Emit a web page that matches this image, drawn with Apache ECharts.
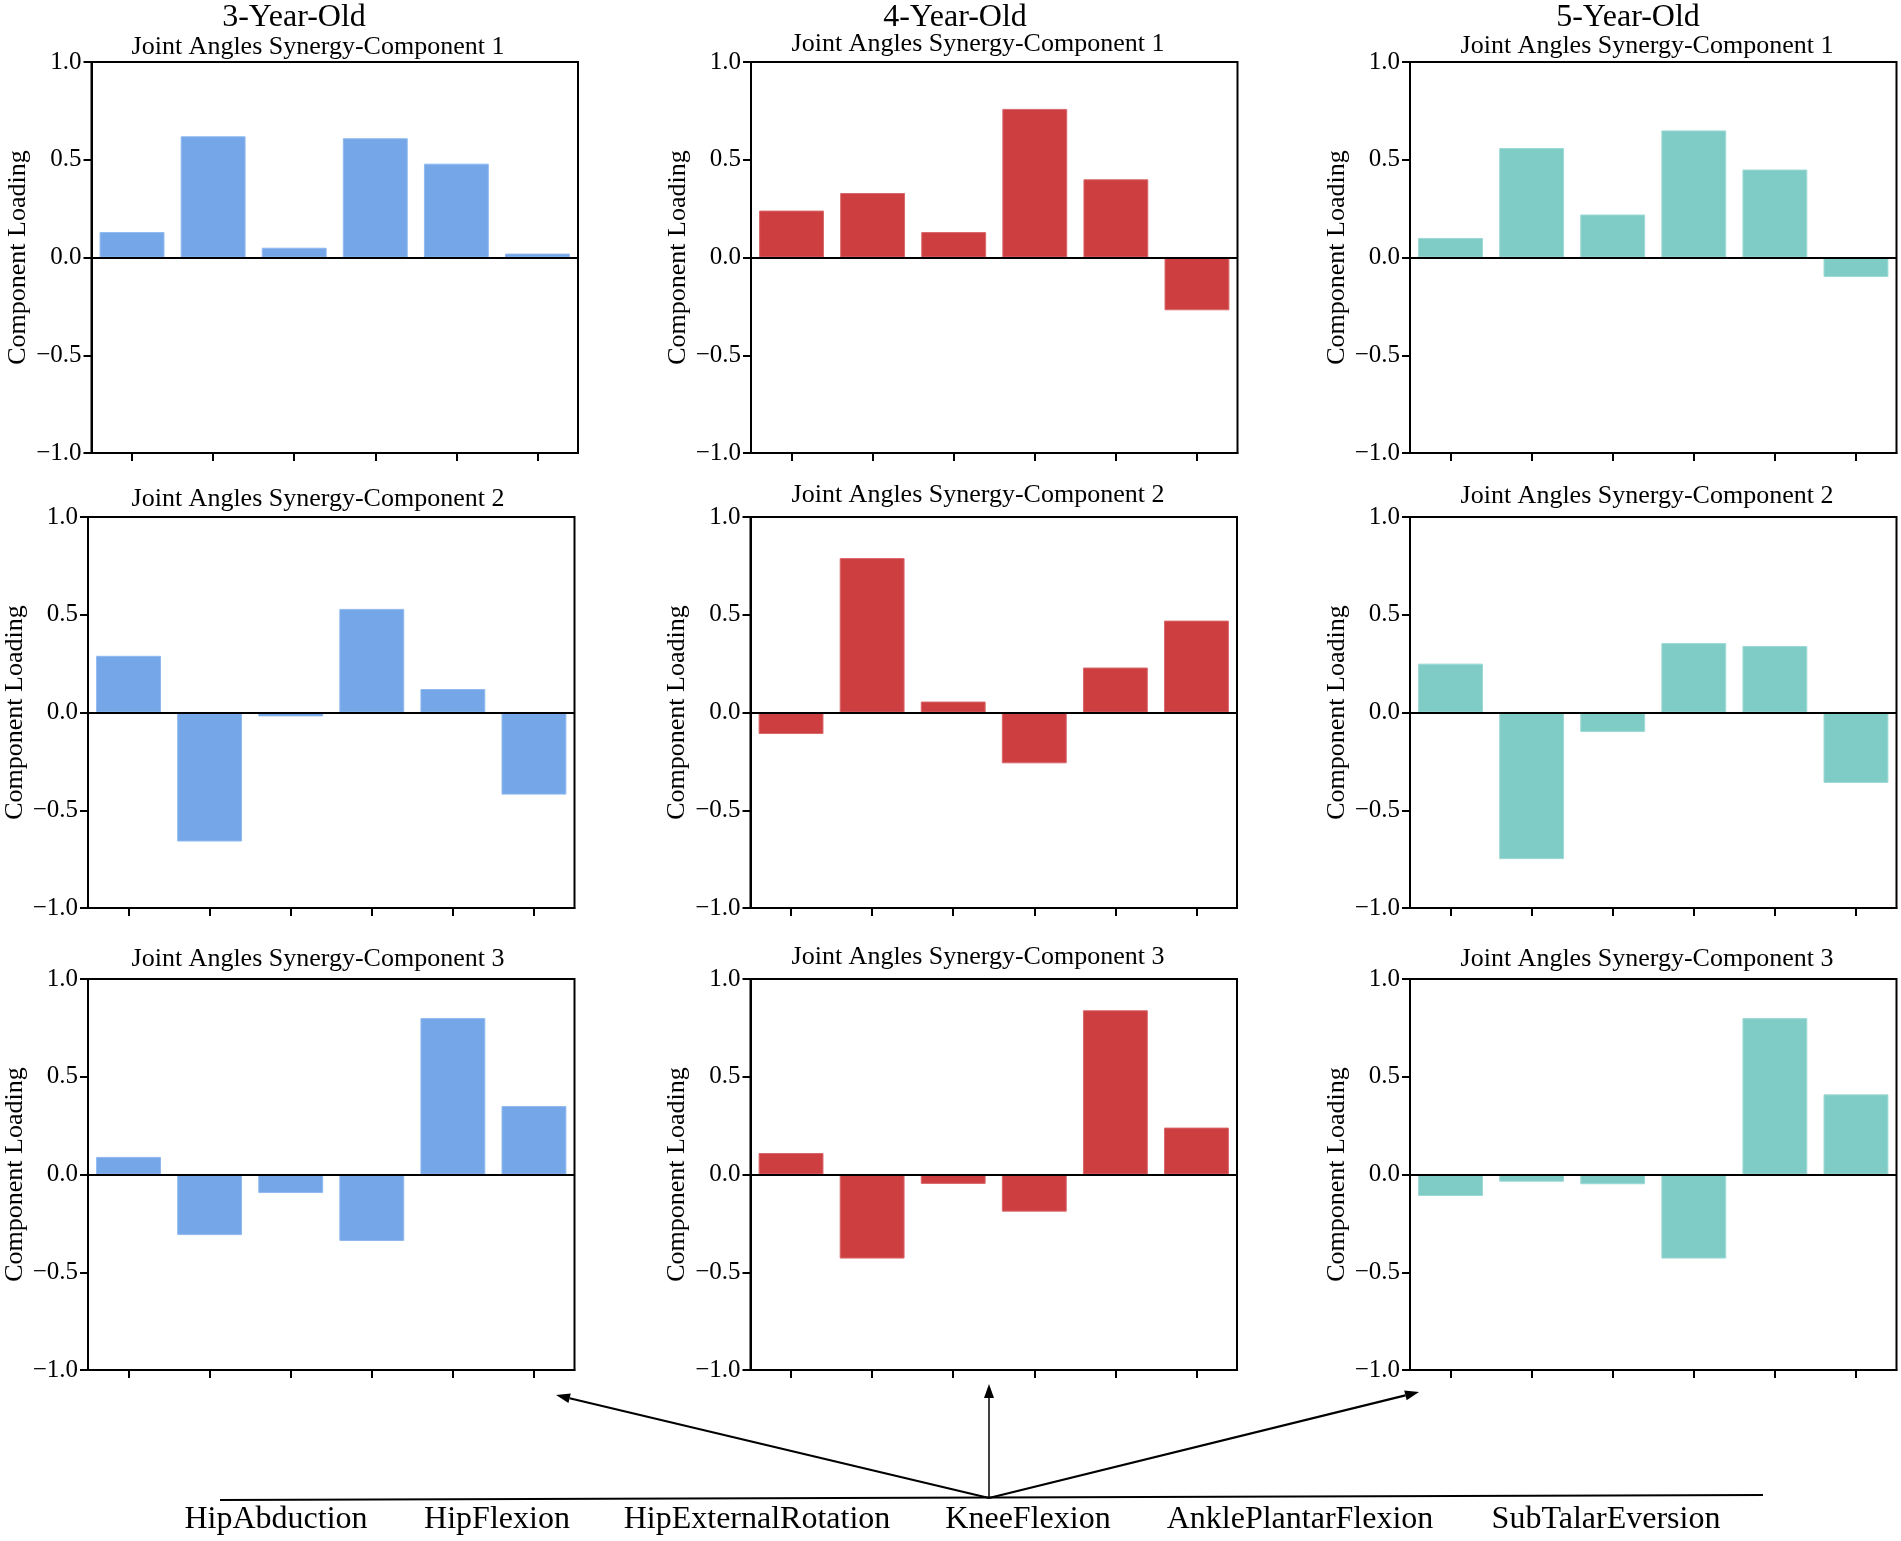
<!DOCTYPE html>
<html>
<head>
<meta charset="utf-8">
<title>Joint Angles Synergy Components</title>
<script src="https://cdn.jsdelivr.net/npm/echarts@6/dist/echarts.min.js"></script>
<style>
  html, body { margin: 0; padding: 0; background: #fff; }
  #chart { width: 1901px; height: 1541px; }
</style>
</head>
<body>
<div id="chart"></div>
<script>
// joint angle categories (same order in every panel)
var categories = ['HipAbduction', 'HipFlexion', 'HipExternalRotation', 'KneeFlexion', 'AnklePlantarFlexion', 'SubTalarEversion'];

var ageGroups = ['3-Year-Old', '4-Year-Old', '5-Year-Old'];
var componentTitles = ['Joint Angles Synergy-Component 1', 'Joint Angles Synergy-Component 2', 'Joint Angles Synergy-Component 3'];

// component loadings
var age3Comp1 = [0.13, 0.62, 0.05, 0.61, 0.48, 0.02];
var age3Comp2 = [0.29, -0.66, -0.02, 0.53, 0.12, -0.42];
var age3Comp3 = [0.09, -0.31, -0.095, -0.34, 0.80, 0.35];

var age4Comp1 = [0.24, 0.33, 0.13, 0.76, 0.40, -0.27];
var age4Comp2 = [-0.11, 0.79, 0.056, -0.26, 0.23, 0.47];
var age4Comp3 = [0.11, -0.43, -0.048, -0.19, 0.84, 0.24];

var age5Comp1 = [0.10, 0.56, 0.22, 0.65, 0.45, -0.10];
var age5Comp2 = [0.25, -0.75, -0.10, 0.355, 0.34, -0.36];
var age5Comp3 = [-0.11, -0.037, -0.05, -0.43, 0.80, 0.41];

(function () {
  'use strict';

  var font = '"Liberation Serif", "Times New Roman", serif';

  // [row][col] -> data
  var panelData = [
    [age3Comp1, age4Comp1, age5Comp1],
    [age3Comp2, age4Comp2, age5Comp2],
    [age3Comp3, age4Comp3, age5Comp3]
  ];
  var colours = ['#74a6e8', '#cc3e40', '#7fccc7'];
  var borders = ['#8fb9ef', '#d9676a', '#9dd9d4'];

  // panel layout (px)
  var rowTop = [62, 517, 979];
  var rowHeight = 391;
  var colLeft = [[91.5, 751, 1410], [88, 750.5, 1410], [88, 750.5, 1410]];
  var panelWidth = 486.5;

  // title placement
  var ageTitleX = [294, 955, 1628];
  var subTitleX = [318, 978, 1647];
  var subTitleY = [[47, 44, 46], [499, 495, 496], [959, 957, 959]];

  var grids = [], xAxes = [], yAxes = [], series = [], graphics = [];

  for (var r = 0; r < 3; r++) {
    for (var c = 0; c < 3; c++) {
      var idx = r * 3 + c;
      grids.push({
        left: colLeft[r][c], top: rowTop[r], width: panelWidth, height: rowHeight,
        show: true, borderColor: '#000', borderWidth: 2, backgroundColor: 'transparent'
      });
      xAxes.push({
        type: 'category', gridIndex: idx, data: categories,
        axisLine: { show: true, onZero: false, lineStyle: { color: '#000', width: 2 } },
        axisTick: { show: true, interval: 0, alignWithLabel: true, length: 8, lineStyle: { color: '#000', width: 2 } },
        axisLabel: { show: true, interval: 0, color: 'rgba(0,0,0,0)', fontSize: 1, formatter: function () { return ''; } },
        splitLine: { show: false }
      });
      yAxes.push({
        type: 'value', gridIndex: idx, min: -1, max: 1, interval: 0.5,
        name: 'Component Loading', nameLocation: 'middle', nameGap: 60,
        nameTextStyle: { fontFamily: font, fontSize: 26, color: '#000' },
        axisLine: { show: true, lineStyle: { color: '#000', width: 2 } },
        axisTick: { show: true, length: 8, lineStyle: { color: '#000', width: 2 } },
        axisLabel: {
          margin: 10, fontFamily: font, fontSize: 25, color: '#000',
          formatter: function (v) { return v.toFixed(1).replace('-', '\u2212'); }
        },
        splitLine: { show: false }
      });
      series.push({
        type: 'bar', xAxisIndex: idx, yAxisIndex: idx,
        data: panelData[r][c],
        barCategoryGap: '20%',
        itemStyle: { color: colours[c], borderColor: borders[c], borderWidth: 1 },
        silent: true,
        markLine: {
          silent: true, symbol: 'none', animation: false,
          label: { show: false },
          lineStyle: { color: '#000', width: 2, type: 'solid' },
          data: [{ yAxis: 0 }]
        }
      });
      graphics.push({
        type: 'text', x: subTitleX[c], y: subTitleY[r][c],
        style: { text: componentTitles[r], font: '26px ' + font, fill: '#000', align: 'center', verticalAlign: 'middle' }
      });
    }
  }

  ageGroups.forEach(function (name, c) {
    graphics.push({
      type: 'text', x: ageTitleX[c], y: 18,
      style: { text: name, font: '32px ' + font, fill: '#000', align: 'center', verticalAlign: 'middle' }
    });
  });

  // bottom legend: baseline, arrows and joint names
  graphics.push({
    type: 'line', shape: { x1: 220, y1: 1500, x2: 1763, y2: 1495 },
    style: { stroke: '#000', lineWidth: 2 }
  });

  var origin = [989, 1498];
  var tips = [[556, 1395], [989, 1384], [1419, 1392]];
  tips.forEach(function (t, i) {
    var dx = t[0] - origin[0], dy = t[1] - origin[1];
    var len = Math.sqrt(dx * dx + dy * dy);
    var ux = dx / len, uy = dy / len;
    var head = 14, half = 5;
    var bx = t[0] - ux * head, by = t[1] - uy * head;
    graphics.push({
      type: 'line', shape: { x1: origin[0], y1: origin[1], x2: bx, y2: by },
      style: { stroke: '#000', lineWidth: i === 1 ? 1.5 : 2.2 }
    });
    graphics.push({
      type: 'polygon',
      shape: { points: [[t[0], t[1]], [bx - uy * half, by + ux * half], [bx + uy * half, by - ux * half]] },
      style: { fill: '#000' }
    });
  });

  var labelX = [276, 497, 757, 1028, 1300, 1606];
  categories.forEach(function (name, i) {
    graphics.push({
      type: 'text', x: labelX[i], y: 1520,
      style: { text: name, font: '32px ' + font, fill: '#000', align: 'center', verticalAlign: 'middle' }
    });
  });

  var chart = echarts.init(document.getElementById('chart'), null, { renderer: 'canvas' });
  chart.setOption({
    backgroundColor: '#fff',
    animation: false,
    grid: grids,
    xAxis: xAxes,
    yAxis: yAxes,
    series: series,
    graphic: { elements: graphics }
  });
})();
</script>
</body>
</html>
